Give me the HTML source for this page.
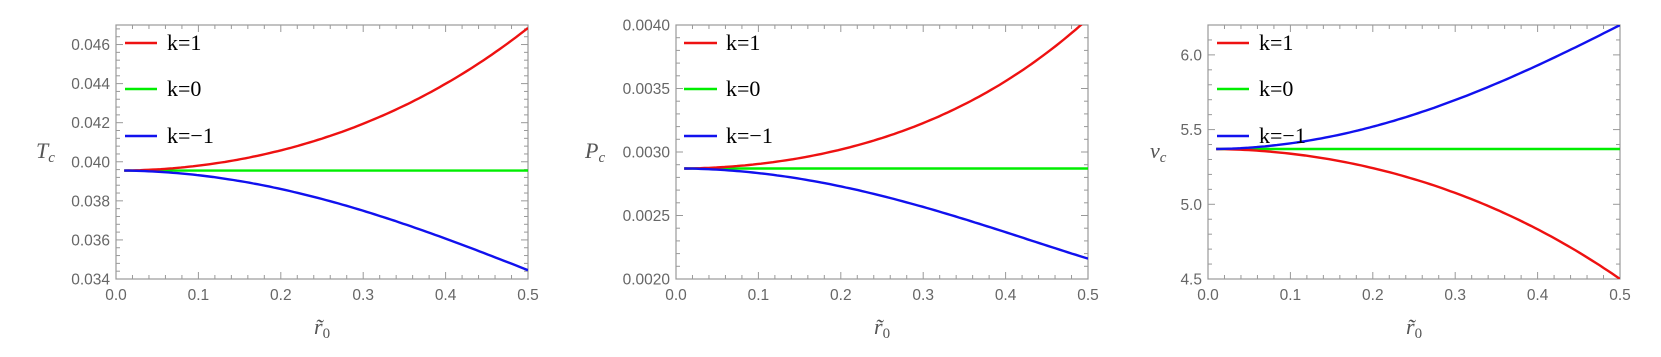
<!DOCTYPE html>
<html><head><meta charset="utf-8"><style>
html,body{margin:0;padding:0;background:#fff;}
svg{display:block;}
</style></head><body>
<svg id="s" width="1661" height="357" xmlns="http://www.w3.org/2000/svg"></svg>
<script>
const s=document.getElementById('s');
let h='';
const panels=[
 {x0:116,x1:528,y0:25,y1:279,ymin:0.034,ymax:0.047,major:0.002,yfirst:0.034,dec:3,nminor:4,
  base:0.03955,red:[0.0024,0.0073],blue:[-0.00206,-0.0051],ylab:'T',ylx:36,lg:[125,157,167]},
 {x0:676,x1:1088,y0:25,y1:279,ymin:0.002,ymax:0.004,major:0.0005,yfirst:0.002,dec:4,nminor:4,
  base:0.00287,red:[0.000358,0.00118],blue:[-0.000303,-0.00071],ylab:'P',ylx:585,lg:[684,717,726]},
 {x0:1208,x1:1620,y0:25,y1:279,ymin:4.5,ymax:6.2,major:0.5,yfirst:4.5,dec:1,nminor:4,
  base:5.37,red:[-0.294,-0.87],blue:[0.328,0.83],ylab:'v',ylx:1150,lg:[1217,1249,1259]}
];
for(const p of panels){
 const X=v=>p.x0+(v/0.5)*(p.x1-p.x0);
 const Y=v=>p.y1-(v-p.ymin)/(p.ymax-p.ymin)*(p.y1-p.y0);
 h+=`<defs><clipPath id="c${p.x0}"><rect x="${p.x0}" y="${p.y0}" width="${p.x1-p.x0}" height="${p.y1-p.y0}"/></clipPath></defs>`;
 for(let i=0;i<=25;i++){const v=i*0.02,x=X(v),maj=i%5==0,l=maj?7:4;
  h+=`<line x1="${x}" y1="${p.y1}" x2="${x}" y2="${p.y1-l}" stroke="#999" stroke-width="1"/>`;
  h+=`<line x1="${x}" y1="${p.y0}" x2="${x}" y2="${p.y0+l}" stroke="#999" stroke-width="1"/>`;
  if(maj)h+=`<text x="${x}" y="300" font-size="15.5" fill="#666" text-anchor="middle" font-family="Liberation Sans,sans-serif">${v.toFixed(1)}</text>`;
 }
 const step=p.major/(p.nminor+1);
 for(let i=0;;i++){const v=p.yfirst+i*step;if(v>p.ymax+1e-12)break;const y=Y(v),maj=i%(p.nminor+1)==0,l=maj?7:4;
  h+=`<line x1="${p.x0}" y1="${y}" x2="${p.x0+l}" y2="${y}" stroke="#999"/>`;
  h+=`<line x1="${p.x1}" y1="${y}" x2="${p.x1-l}" y2="${y}" stroke="#999"/>`;
  if(maj)h+=`<text x="${p.x0-6}" y="${y+5.5}" font-size="15.5" fill="#666" text-anchor="end" font-family="Liberation Sans,sans-serif">${v.toFixed(p.dec)}</text>`;
 }
 h+=`<rect x="${p.x0}" y="${p.y0}" width="${p.x1-p.x0}" height="${p.y1-p.y0}" fill="none" stroke="#999" stroke-width="1.2"/>`;
 const curve=(d,col)=>{const a3=d[0],a5=d[1];
  const det=0.09*0.0625-0.0081*0.25;const A=(a3*0.0625-0.0081*a5)/det,B=(0.09*a5-0.25*a3)/det;
  let pts=[];for(let i=0;i<=100;i++){const x=0.01+i*0.0049;const v=p.base+A*(x*x-1e-4)+B*(x**4);pts.push(X(x).toFixed(1)+','+Y(v).toFixed(1));}
  h+=`<polyline points="${pts.join(' ')}" fill="none" stroke="${col}" stroke-width="2.4" clip-path="url(#c${p.x0})"/>`;};
 h+=`<line x1="${X(0.01)}" y1="${Y(p.base)}" x2="${p.x1}" y2="${Y(p.base)}" stroke="#00ee00" stroke-width="2.4"/>`;
 curve(p.red,'#ee1111');curve(p.blue,'#1111ee');
 const lab=['k=1','k=0','k=\u22121'],cols=['#ee1111','#00ee00','#1111ee'],ly=[43,89,136];
 for(let i=0;i<3;i++){h+=`<line x1="${p.lg[0]}" y1="${ly[i]}" x2="${p.lg[1]}" y2="${ly[i]}" stroke="${cols[i]}" stroke-width="2.6"/>`;
  h+=`<text x="${p.lg[2]}" y="${ly[i]+7}" font-size="22" fill="#000" font-family="Liberation Serif,serif">${lab[i]}</text>`;}
 h+=`<text x="${p.ylx}" y="158" font-size="22" fill="#555" font-style="italic" font-family="Liberation Serif,serif">${p.ylab}<tspan font-size="15" dy="4">c</tspan></text>`;
 const cx=(p.x0+p.x1)/2;
 h+=`<text x="${cx-8}" y="334" font-size="22" fill="#555" font-style="italic" font-family="Liberation Serif,serif">r\u0303<tspan font-size="15" dy="4" font-style="normal">0</tspan></text>`;
}
s.innerHTML=h;
</script>
</body></html>
